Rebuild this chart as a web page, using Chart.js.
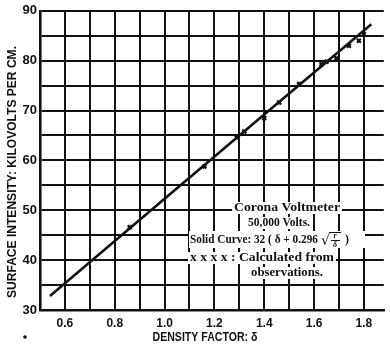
<!DOCTYPE html>
<html>
<head>
<meta charset="utf-8">
<script src="https://cdn.jsdelivr.net/npm/chart.js@4.4.1/dist/chart.umd.min.js"></script>
<style>
  html, body { margin: 0; padding: 0; background: #fff; }
  #wrap { width: 390px; height: 347px; }
</style>
</head>
<body>
<div id="wrap"><canvas id="chart" width="390" height="347"></canvas></div>
<script>
// values
const obsDensity = [0.86, 1.16, 1.29, 1.32, 1.40, 1.46, 1.54, 1.63, 1.65, 1.69, 1.74, 1.78, 1.80];
const obsIntensity = [46.6, 58.8, 64.6, 65.8, 68.5, 71.6, 75.3, 79.3, 79.8, 80.5, 83.0, 84.0, 85.3];

const curveDensity = [0.54, 1.0, 1.4, 1.83];
const curveIntensity = [32.8, 52.3, 69.2, 87.3];

const xTicks = [0.5, 0.6, 0.7, 0.8, 0.9, 1.0, 1.1, 1.2, 1.3, 1.4, 1.5, 1.6, 1.7, 1.8];
const xTickLabels = ['', '0.6', '', '0.8', '', '1.0', '', '1.2', '', '1.4', '', '1.6', '', '1.8'];
const yTicks = [30, 35, 40, 45, 50, 55, 60, 65, 70, 75, 80, 85, 90];
const yTickLabels = ['30', '', '40', '', '50', '', '60', '', '70', '', '80', '', '90'];

const xTitle = 'DENSITY FACTOR: δ';
const yTitle = 'SURFACE INTENSITY: KILOVOLTS PER CM.';

const INK = '#111';

// draw text squeezed/stretched to a given width
function fitText(ctx, text, cx, cy, width, font) {
    ctx.save();
    ctx.font = font;
    const w = ctx.measureText(text).width;
    ctx.translate(cx, cy);
    ctx.scale(width / w, 1);
    ctx.textAlign = 'center';
    ctx.textBaseline = 'middle';
    ctx.fillText(text, 0, 0);
    ctx.restore();
}

const textPlugin = {
    id: 'textPlugin',
    afterDraw(chart) {
        const ctx = chart.ctx;
        ctx.save();
        ctx.fillStyle = INK;

        // axis titles
        fitText(ctx, xTitle, 205, 338, 105, 'bold 12px "Liberation Sans"');
        ctx.save();
        ctx.translate(13, 172);
        ctx.rotate(-Math.PI / 2);
        fitText(ctx, yTitle, 0, 0, 252, 'bold 12px "Liberation Sans"');
        ctx.restore();

        // stray mark at lower left
        ctx.beginPath();
        ctx.arc(25, 337, 1.8, 0, Math.PI * 2);
        ctx.fill();

        // legend box text
        const serif = 'bold 12px "Liberation Serif"';
        const lines = [
            { t: 'Corona Voltmeter', cx: 287, cy: 208, w: 106 },
            { t: '50,000 Volts.', cx: 279, cy: 223, w: 62 },
            { t: 'x x x x : Calculated from', cx: 262, cy: 258, w: 144 },
            { t: 'observations.', cx: 287, cy: 273, w: 72 }
        ];
        lines.forEach(l => {
            ctx.fillStyle = '#fff';
            ctx.fillRect(l.cx - l.w / 2 - 2, l.cy - 6, l.w + 4, 12);
            ctx.fillStyle = INK;
            fitText(ctx, l.t, l.cx, l.cy, l.w, serif);
        });

        // formula line with the root fraction
        const y0 = 240;
        ctx.fillStyle = '#fff';
        ctx.fillRect(189, y0 - 9, 176, 17);
        ctx.fillStyle = INK;
        fitText(ctx, 'Solid Curve: 32 ( δ + 0.296', 254, y0, 128, serif);
        ctx.font = '14px "DejaVu Serif"';
        ctx.textBaseline = 'middle';
        ctx.textAlign = 'left';
        ctx.fillText('√', 321, y0 + 1);
        ctx.fillRect(329, y0 - 8, 12, 1);
        ctx.font = 'italic bold 8px "Liberation Serif"';
        ctx.textAlign = 'center';
        ctx.fillText('r', 335, y0 - 4);
        ctx.fillRect(331, y0, 9, 1);
        ctx.fillText('δ', 335, y0 + 5);
        ctx.font = serif;
        ctx.fillText(')', 347, y0);

        ctx.restore();
    }
};

new Chart(document.getElementById('chart').getContext('2d'), {
    type: 'scatter',
    data: {
        datasets: [
            {
                type: 'line',
                data: curveDensity.map((x, i) => ({ x: x, y: curveIntensity[i] })),
                borderColor: INK,
                borderWidth: 2.6,
                pointRadius: 0,
                fill: false,
                tension: 0
            },
            {
                data: obsDensity.map((x, i) => ({ x: x, y: obsIntensity[i] })),
                pointStyle: 'crossRot',
                pointRadius: 2.8,
                borderColor: INK,
                borderWidth: 2.2,
                backgroundColor: INK
            }
        ]
    },
    options: {
        responsive: false,
        animation: false,
        layout: { padding: { top: 8, right: 2, left: 0, bottom: 0 } },
        plugins: {
            legend: { display: false },
            tooltip: { enabled: false }
        },
        scales: {
            x: {
                type: 'linear',
                min: 0.5,
                max: 1.88,
                afterBuildTicks: scale => { scale.ticks = xTicks.map(v => ({ value: v })); },
                afterFit: scale => { scale.height = 37; },
                grid: { color: INK, lineWidth: 2, drawTicks: false },
                border: { color: INK, width: 2.6 },
                ticks: {
                    padding: 6,
                    autoSkip: false,
                    maxRotation: 0,
                    color: INK,
                    font: { family: 'Liberation Sans', weight: 'bold', size: 12 },
                    callback: (value, index) => xTickLabels[index]
                }
            },
            y: {
                min: 30,
                max: 90,
                afterBuildTicks: scale => { scale.ticks = yTicks.map(v => ({ value: v })); },
                afterFit: scale => { scale.width = 40; },
                grid: { color: INK, lineWidth: 2, drawTicks: false },
                border: { color: INK, width: 2.6 },
                ticks: {
                    padding: 3,
                    autoSkip: false,
                    color: INK,
                    font: { family: 'Liberation Sans', weight: 'bold', size: 13 },
                    callback: (value, index) => yTickLabels[index]
                }
            }
        }
    },
    plugins: [textPlugin]
});
</script>
</body>
</html>
